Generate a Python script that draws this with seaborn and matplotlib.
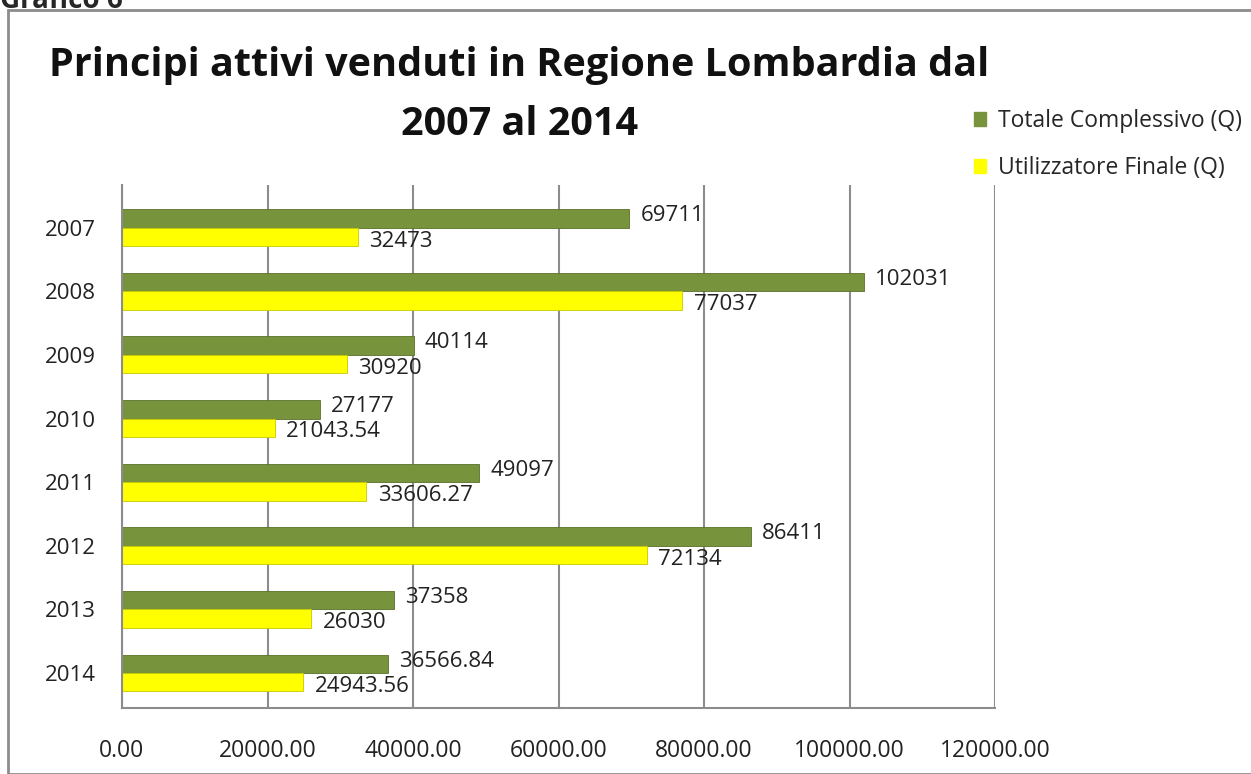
import pandas as pd
import matplotlib.pyplot as plt
import matplotlib.patches as mpatches
import seaborn as sns

# ============================
# Data
# ============================

years = ['2007', '2008', '2009', '2010', '2011', '2012', '2013', '2014']
totale = [69711, 102031, 40114, 27177, 49097, 86411, 37358, 36566.84]
finale = [32473, 77037, 30920, 21043.54, 33606.27, 72134, 26030, 24943.56]
series = ['Totale Complessivo (Q)', 'Utilizzatore Finale (Q)']
x_ticks = [0, 20000, 40000, 60000, 80000, 100000, 120000]

df = pd.DataFrame({
    'Anno': years * 2,
    'Valore': totale + finale,
    'Serie': [series[0]] * len(years) + [series[1]] * len(years),
})

# ============================
# Plot
# ============================

sns.set_style('white')
plt.rcParams['font.family'] = ['Open Sans', 'DejaVu Sans']

fig = plt.figure(figsize=(12.51, 7.74), dpi=100)
ax = fig.add_axes([122 / 1251, 1 - 708 / 774, (995 - 122) / 1251, (708 - 185) / 774])

sns.barplot(
    data=df, y='Anno', x='Valore', hue='Serie', orient='h',
    palette=['#77933C', '#FFFF00'], saturation=1, width=0.58, ax=ax,
    edgecolor='#5a7029', linewidth=0.6, legend=False,
)

# darker edge on the yellow bars
for bar in ax.containers[1]:
    bar.set_edgecolor('#c9c900')


def fmt(v):
    return f'{v:.0f}' if float(v).is_integer() else f'{v:.2f}'


# value labels, green ones nudged up a little and yellow ones down
for cont, vals, dy in zip(ax.containers, [totale, finale], [2, -3]):
    texts = ax.bar_label(cont, labels=[fmt(v) for v in vals], padding=8,
                         fontsize=16, color='#222222')
    for t in texts:
        t.xyann = (8, dy)

ax.set_xlim(0, 120000)
ax.set_ylim(7.55, -0.67)
ax.set_xticks(x_ticks)
ax.set_xticklabels([f'{t:.2f}' for t in x_ticks], fontsize=16.5, color='#222222')
ax.tick_params(axis='x', length=0, pad=22)
ax.tick_params(axis='y', length=0, pad=19, labelsize=16, labelcolor='#222222')
ax.set_xlabel('')
ax.set_ylabel('')
ax.grid(axis='x', color='#8c8c8c', linewidth=1.5)
ax.set_axisbelow(True)
for side in ['top', 'right']:
    ax.spines[side].set_visible(False)
for side in ['left', 'bottom']:
    ax.spines[side].set_color('#8c8c8c')
    ax.spines[side].set_linewidth(1.5)

# ============================
# Title and legend
# ============================

fig.text(0.415, 0.94, 'Principi attivi venduti in Regione Lombardia dal\n2007 al 2014',
         ha='center', va='top', fontsize=28.5, fontweight='bold',
         linespacing=1.65, color='#111111')

handles = [mpatches.Patch(color=c, label=s) for c, s in zip(['#77933C', '#FFFF00'], series)]
fig.legend(handles=handles, loc='upper left', bbox_to_anchor=(0.771, 0.871),
           frameon=False, fontsize=16.5, handlelength=0.55, handleheight=0.55,
           handletextpad=0.5, labelspacing=1.0, borderaxespad=0)

# chart frame and clipped caption
fig.patches.append(mpatches.Rectangle((8 / 1251, 0), 1.2, 1 - 10 / 774,
                                      transform=fig.transFigure, fill=False,
                                      edgecolor='#8c8c8c', linewidth=2))
fig.text(0.0, 1.0, 'Grafico 6', ha='left', va='center', fontsize=20, fontweight='bold')

fig.savefig('out.png', dpi=100)
